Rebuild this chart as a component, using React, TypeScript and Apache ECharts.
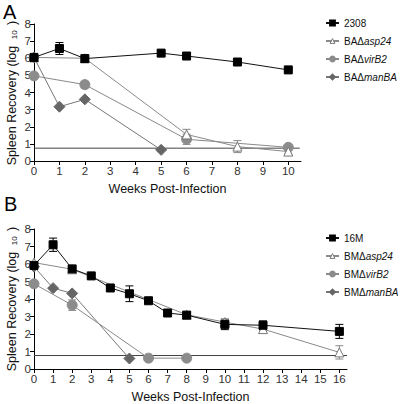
import React, { useEffect, useRef } from "react";
import * as echarts from "echarts";

// Panel A
const weeksA_2308 = [0, 1, 2, 5, 6, 8, 10];
const valsA_2308 = [6.05, 6.57, 5.98, 6.3, 6.13, 5.78, 5.32];
const errA_2308 = [0.1, 0.35, 0.08, 0.08, 0.08, 0.08, 0.08];
const weeksA_asp = [0, 2, 6, 8, 10];
const valsA_asp = [6.05, 6.0, 1.55, 0.84, 0.55];
const errA_asp = [0.1, 0.08, 0.3, 0.35, 0.1];
const weeksA_vir = [0, 2, 6, 10];
const valsA_vir = [4.97, 4.46, 1.27, 0.8];
const errA_vir = [0.05, 0.2, 0.3, 0.08];
const weeksA_man = [0, 1, 2, 5];
const valsA_man = [6.05, 3.17, 3.6, 0.65];
const limitA = 0.75;

// Panel B
const weeksB_16M = [0, 1, 2, 3, 4, 5, 6, 7, 8, 10, 12, 16];
const valsB_16M = [5.92, 7.1, 5.72, 5.32, 4.63, 4.3, 3.9, 3.2, 3.08, 2.55, 2.5, 2.15];
const errB_16M = [0.1, 0.38, 0.1, 0.08, 0.08, 0.45, 0.08, 0.08, 0.08, 0.3, 0.25, 0.4];
const weeksB_asp = [0, 2, 8, 10, 12, 16];
const valsB_asp = [6.08, 5.7, 3.1, 2.68, 2.28, 0.95];
const errB_asp = [0.05, 0.15, 0.1, 0.15, 0.1, 0.38];
const weeksB_vir = [0, 2, 6, 8];
const valsB_vir = [4.87, 3.65, 0.62, 0.62];
const errB_vir = [0.05, 0.3, 0.05, 0.05];
const weeksB_man = [0, 1, 2, 5];
const valsB_man = [5.85, 4.62, 4.32, 0.6];
const limitB = 0.77;

const ticksA = [0, 1, 2, 3, 4, 5, 6, 7, 8, 9, 10];
const ticksB = [0, 1, 2, 3, 4, 5, 6, 7, 8, 9, 10, 11, 12, 13, 14, 15, 16];

const namesA = ["2308", "BAΔasp24", "BAΔvirB2", "BAΔmanBA"];
const namesB = ["16M", "BMΔasp24", "BMΔvirB2", "BMΔmanBA"];

const FONT = "Liberation Sans, Arial, sans-serif";

const zip = (xs: number[], ys: number[]) => xs.map((x, i) => [x, ys[i]]);
const zip3 = (xs: number[], ys: number[], es: number[]) => xs.map((x, i) => [x, ys[i], es[i]]);

function errSeries(data: number[][], idx: number, color: string) {
  return {
    type: "custom",
    xAxisIndex: idx,
    yAxisIndex: idx,
    data,
    z: 1,
    silent: true,
    renderItem: (params: any, api: any) => {
      const x = api.value(0);
      const y = api.value(1);
      const e = api.value(2);
      const top = api.coord([x, y + e]);
      const bot = api.coord([x, y - e]);
      const w = 4;
      const st = { stroke: color, lineWidth: 1 };
      return {
        type: "group",
        children: [
          { type: "line", shape: { x1: top[0], y1: top[1], x2: bot[0], y2: bot[1] }, style: st },
          { type: "line", shape: { x1: top[0] - w, y1: top[1], x2: top[0] + w, y2: top[1] }, style: st },
          { type: "line", shape: { x1: bot[0] - w, y1: bot[1], x2: bot[0] + w, y2: bot[1] }, style: st },
        ],
      };
    },
  };
}

const styles = [
  { symbol: "rect", size: 8, fill: "#000", stroke: "#000", line: "#111" },
  { symbol: "triangle", size: 9, fill: "#fff", stroke: "#777", line: "#8a8a8a" },
  { symbol: "circle", size: 10, fill: "#8c8c8c", stroke: "#8c8c8c", line: "#8a8a8a" },
  { symbol: "diamond", size: 11, fill: "#666", stroke: "#666", line: "#777" },
];

function lineSeries(name: string, data: number[][], idx: number, s: any, z: number) {
  return {
    type: "line",
    name,
    xAxisIndex: idx,
    yAxisIndex: idx,
    data,
    symbol: s.symbol,
    symbolSize: s.size,
    z,
    lineStyle: { color: s.line, width: 1 },
    itemStyle: { color: s.fill, borderColor: s.stroke, borderWidth: 1 },
  };
}

function xAxis(idx: number, max: number, ticks: number[]) {
  return {
    type: "value",
    gridIndex: idx,
    min: 0,
    max,
    name: "Weeks Post-Infection",
    nameLocation: "middle",
    nameGap: 21,
    nameTextStyle: { fontFamily: FONT, fontSize: 12.5, color: "#111" },
    axisLine: { show: true, onZero: false, lineStyle: { color: "#000", width: 1 } },
    axisTick: { show: true, length: 4, customValues: ticks, lineStyle: { color: "#000" } },
    axisLabel: { customValues: ticks, fontFamily: FONT, fontSize: 11.5, color: "#333", margin: 4 },
    splitLine: { show: false },
  };
}

function yAxis(idx: number) {
  return {
    type: "value",
    gridIndex: idx,
    min: 0,
    max: 8,
    interval: 1,
    axisLine: { show: true, onZero: false, lineStyle: { color: "#000", width: 1 } },
    axisTick: { show: true, length: 4, lineStyle: { color: "#000" } },
    axisLabel: { fontFamily: FONT, fontSize: 11.5, color: "#333", margin: 3 },
    splitLine: { show: false },
  };
}

function legend(names: string[], top: number) {
  return {
    data: names.map((n, i) =>
      i === 1
        ? { name: n, itemStyle: { color: "#fff", borderColor: "#777", borderWidth: 1 } }
        : { name: n }
    ),
    orient: "vertical",
    left: 325,
    top,
    padding: 0,
    itemWidth: 13,
    itemHeight: 6,
    itemGap: 8,
    formatter: (name: string) => {
      const m = name.match(/^(B[AM]Δ)(.*)$/);
      return m ? `{n|${m[1]}}{i|${m[2]}}` : `{n|${name}}`;
    },
    textStyle: {
      rich: {
        n: { fontFamily: FONT, fontSize: 10, color: "#111" },
        i: { fontFamily: FONT, fontSize: 10, color: "#111", fontStyle: "italic" },
      },
    },
  };
}

function yTitle(cy: number) {
  return {
    type: "text",
    x: 12,
    y: cy,
    rotation: Math.PI / 2,
    style: {
      text: "{a|Spleen Recovery (log }{b|10}{a| )}",
      align: "center",
      verticalAlign: "middle",
      rich: {
        a: { fontFamily: FONT, fontSize: 12.5, fill: "#111" },
        b: { fontFamily: FONT, fontSize: 8, fill: "#111", padding: [5, 2, 0, 3] },
      },
    },
  };
}

export default function App() {
  const ref = useRef<HTMLDivElement>(null);
  useEffect(() => {
    if (!ref.current) return;
    const chart = echarts.init(ref.current, undefined, { renderer: "svg" });
    const valsA = [valsA_2308, valsA_asp, valsA_vir, valsA_man];
    const wA = [weeksA_2308, weeksA_asp, weeksA_vir, weeksA_man];
    const valsB = [valsB_16M, valsB_asp, valsB_vir, valsB_man];
    const wB = [weeksB_16M, weeksB_asp, weeksB_vir, weeksB_man];
    const series: any[] = [];
    series.push({
      type: "line", xAxisIndex: 0, yAxisIndex: 0, data: [[0, limitA], [10.45, limitA]],
      symbol: "none", lineStyle: { color: "#444", width: 1 }, z: 1, silent: true,
    });
    series.push({
      type: "line", xAxisIndex: 1, yAxisIndex: 1, data: [[0, limitB], [16.4, limitB]],
      symbol: "none", lineStyle: { color: "#444", width: 1 }, z: 1, silent: true,
    });
    series.push(errSeries(zip3(weeksA_2308, valsA_2308, errA_2308), 0, "#000"));
    series.push(errSeries(zip3(weeksA_asp, valsA_asp, errA_asp), 0, "#888"));
    series.push(errSeries(zip3(weeksA_vir, valsA_vir, errA_vir), 0, "#888"));
    series.push(errSeries(zip3(weeksB_16M, valsB_16M, errB_16M), 1, "#000"));
    series.push(errSeries(zip3(weeksB_asp, valsB_asp, errB_asp), 1, "#888"));
    series.push(errSeries(zip3(weeksB_vir, valsB_vir, errB_vir), 1, "#888"));
    for (let i = 3; i >= 0; i--) {
      series.push(lineSeries(namesA[i], zip(wA[i], valsA[i]), 0, styles[i], 2 + (3 - i)));
      series.push(lineSeries(namesB[i], zip(wB[i], valsB[i]), 1, styles[i], 2 + (3 - i)));
    }
    chart.setOption({
      animation: false,
      backgroundColor: "#fff",
      grid: [
        { left: 34, top: 24, width: 267, height: 137 },
        { left: 34, top: 229, width: 313, height: 140 },
      ],
      xAxis: [xAxis(0, 10.5, ticksA), xAxis(1, 16.4, ticksB)],
      yAxis: [yAxis(0), yAxis(1)],
      legend: [legend(namesA, 18), legend(namesB, 233)],
      graphic: [
        { type: "text", left: 3, top: 2, style: { text: "A", fontFamily: FONT, fontSize: 20, fill: "#000" } },
        { type: "text", left: 4, top: 194, style: { text: "B", fontFamily: FONT, fontSize: 20, fill: "#000" } },
        yTitle(93),
        yTitle(299),
      ],
      series,
    });
    return () => chart.dispose();
  }, []);
  return <div ref={ref} style={{ width: 400, height: 404, position: "absolute", left: 0, top: 0 }} />;
}
